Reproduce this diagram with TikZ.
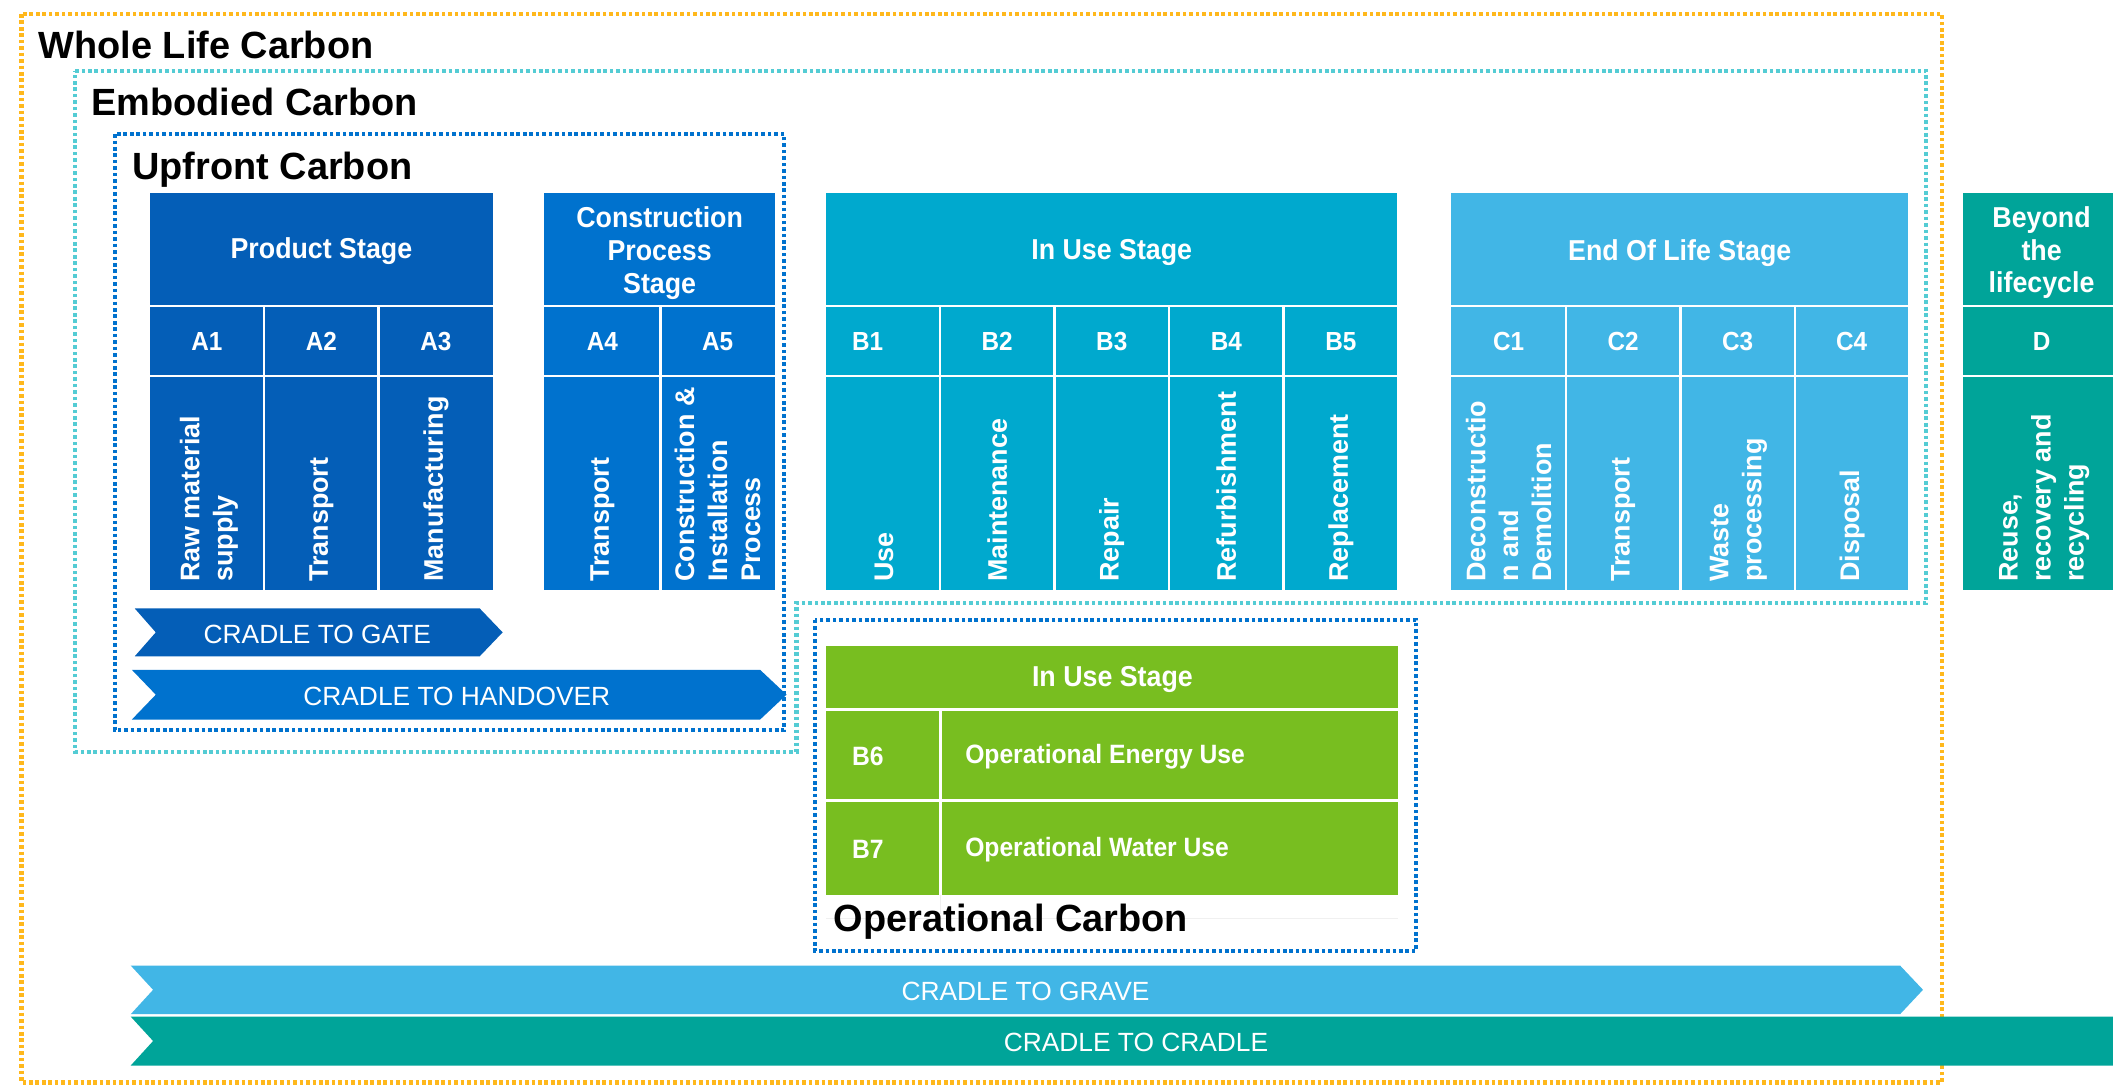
\documentclass[tikz,border=0pt]{standalone}
\usepackage{fontspec}
\setmainfont{Liberation Sans}
\newfontfamily\narrowsf[FakeStretch=0.93]{Liberation Sans}
\definecolor{prodblue}{RGB}{4,94,183}
\definecolor{consblue}{RGB}{0,114,206}
\definecolor{usecyan}{RGB}{0,169,206}
\definecolor{eolblue}{RGB}{65,182,230}
\definecolor{beyondteal}{RGB}{0,164,153}
\definecolor{opgreen}{RGB}{120,190,32}
\definecolor{wlcorange}{RGB}{255,184,28}
\definecolor{embteal}{RGB}{84,204,212}
\definecolor{upblue}{RGB}{0,114,206}
\tikzset{
  dotbox/.style={line width=2.2pt, dash pattern=on 1.9pt off 1.5pt},
  celldiv/.style={white, line width=1.4pt},
  boxtitle/.style={anchor=base west, inner sep=0pt, font=\bfseries\fontsize{20}{24}\selectfont},
  headtxt/.style={text=white, inner sep=0pt, align=center, font=\narrowsf\bfseries\fontsize{15.2}{17.3}\selectfont},
  codetxt/.style={text=white, inner sep=0pt, font=\narrowsf\bfseries\fontsize{13.8}{16}\selectfont},
  rowtxt/.style={text=white, inner sep=0pt, anchor=west, font=\narrowsf\bfseries\fontsize{14}{16}\selectfont},
  vtxt/.style={text=white, inner sep=0pt, rotate=90, anchor=west, align=left, font=\bfseries\fontsize{14.2}{17.4}\selectfont},
  arrowtxt/.style={text=white, inner sep=0pt, font=\fontsize{13.9}{16}\selectfont},
}
\begin{document}
\begin{tikzpicture}[x=0.025cm, y=-0.025cm]
\useasboundingbox (0,0) rectangle (1568,805);
\draw[dotbox, wlcorange] (16,10.4) rectangle (1441,803.3);
\draw[dotbox, embteal] (55.7,52.5) -- (1429.5,52.5) -- (1429.5,447.7) -- (591,447.7) -- (591,558) -- (55.7,558) -- cycle;
\draw[dotbox, upblue] (85.3,99.5) rectangle (582,542);
\draw[dotbox, upblue] (604.6,460) rectangle (1050.9,705.4);
\node[boxtitle] (wlc) at (28.4,43.3) {Whole Life Carbon};
\node[boxtitle] (emb) at (67.5,86) {Embodied Carbon};
\node[boxtitle] (upf) at (98,133) {Upfront Carbon};
\fill[prodblue] (111,143) rectangle (366,438);
\draw[celldiv] (111,227) -- (366,227);
\draw[celldiv] (111,279) -- (366,279);
\draw[celldiv] (196,227) -- (196,438);
\draw[celldiv] (281,227) -- (281,438);
\node[headtxt] (prodhead) at (238.5,186.5) {Product Stage};
\node[codetxt] (a1) at (153.5,253.5) {A1};
\node[codetxt] (a2) at (238.5,253.5) {A2};
\node[codetxt] (a3) at (323.5,253.5) {A3};
\node[vtxt] (a1txt) at (155,432) {Raw material\\supply};
\node[vtxt] (a2txt) at (238.5,432) {Transport};
\node[vtxt] (a3txt) at (323.5,432) {Manufacturing};
\fill[consblue] (404,143) rectangle (575,438);
\draw[celldiv] (404,227) -- (575,227);
\draw[celldiv] (404,279) -- (575,279);
\draw[celldiv] (490,227) -- (490,438);
\node[headtxt] (conshead) at (489.5,188) {Construction\\Process\\Stage};
\node[codetxt] (a4) at (447,253.5) {A4};
\node[codetxt] (a5) at (532.5,253.5) {A5};
\node[vtxt] (a4txt) at (447,432) {Transport};
\node[vtxt] (a5txt) at (532.5,432) {Construction \&\\Installation\\Process};
\fill[usecyan] (613,143) rectangle (1037,438);
\draw[celldiv] (613,227) -- (1037,227);
\draw[celldiv] (613,279) -- (1037,279);
\draw[celldiv] (697.5,227) -- (697.5,438);
\draw[celldiv] (782.5,227) -- (782.5,438);
\draw[celldiv] (867.5,227) -- (867.5,438);
\draw[celldiv] (952.5,227) -- (952.5,438);
\node[headtxt] (usehead) at (825,187.5) {In Use Stage};
\node[codetxt, anchor=west] (b1) at (632,253.5) {B1};
\node[codetxt] (b2) at (740,253.5) {B2};
\node[codetxt] (b3) at (825,253.5) {B3};
\node[codetxt] (b4) at (910,253.5) {B4};
\node[codetxt] (b5) at (995,253.5) {B5};
\node[vtxt] (b1txt) at (656,432) {Use};
\node[vtxt] (b2txt) at (740,432) {Maintenance};
\node[vtxt] (b3txt) at (825,432) {Repair};
\node[vtxt] (b4txt) at (910,432) {Refurbishment};
\node[vtxt] (b5txt) at (995,432) {Replacement};
\fill[eolblue] (1077,143) rectangle (1416,438);
\draw[celldiv] (1077,227) -- (1416,227);
\draw[celldiv] (1077,279) -- (1416,279);
\draw[celldiv] (1162,227) -- (1162,438);
\draw[celldiv] (1247,227) -- (1247,438);
\draw[celldiv] (1332,227) -- (1332,438);
\node[headtxt] (eolhead) at (1246.5,187.5) {End Of Life Stage};
\node[codetxt] (c1) at (1119.5,253.5) {C1};
\node[codetxt] (c2) at (1204.5,253.5) {C2};
\node[codetxt] (c3) at (1289.5,253.5) {C3};
\node[codetxt] (c4) at (1374,253.5) {C4};
\node[vtxt] (c1txt) at (1119.5,432) {Deconstructio\\n and\\Demolition};
\node[vtxt] (c2txt) at (1204.5,432) {Transport};
\node[vtxt] (c3txt) at (1290,432) {Waste\\processing};
\node[vtxt] (c4txt) at (1374.5,432) {Disposal};
\fill[beyondteal] (1456.5,143) rectangle (1580,438);
\draw[celldiv] (1456.5,227) -- (1580,227);
\draw[celldiv] (1456.5,279) -- (1580,279);
\node[headtxt] (beyhead) at (1515,187.5) {Beyond\\the\\lifecycle};
\node[codetxt] (d) at (1515,253.5) {D};
\node[vtxt] (dtxt) at (1517,432) {Reuse,\\recovery and\\recycling};
\fill[opgreen] (613,479.5) rectangle (1037.5,664);
\draw[celldiv] (613,526.5) -- (1037.5,526.5);
\draw[celldiv] (613,594) -- (1037.5,594);
\draw[celldiv] (698,526.5) -- (698,664);
\draw[gray!12, line width=0.6pt] (613,681.4) -- (1037.5,681.4);
\draw[gray!12, line width=0.6pt] (698,664) -- (698,678);
\node[headtxt] (ophead) at (825.5,504.5) {In Use Stage};
\node[rowtxt] (b6) at (632,561.5) {B6};
\node[rowtxt] (b7) at (632,630.5) {B7};
\node[rowtxt] (b6txt) at (716,561.5) {Operational Energy Use};
\node[rowtxt] (b7txt) at (716,630.5) {Operational Water Use};
\node[boxtitle] (opc) at (618.6,691) {Operational Carbon};
\fill[prodblue] (100,451.5) -- (356,451.5) -- (373,469.25) -- (356,487) -- (100,487) -- (115.6,469.25) -- cycle;
\node[arrowtxt] (gate) at (235.5,470.5) {CRADLE TO GATE};
\fill[consblue] (97.8,497) -- (564,497) -- (583.7,515.5) -- (564,534) -- (97.8,534) -- (115.6,515.5) -- cycle;
\node[arrowtxt] (handover) at (339,516.5) {CRADLE TO HANDOVER};
\fill[eolblue] (97,716.5) -- (1410,716.5) -- (1427,734.5) -- (1410,752.6) -- (97,752.6) -- (113.6,734.5) -- cycle;
\node[arrowtxt] (grave) at (761,735.5) {CRADLE TO GRAVE};
\fill[beyondteal] (97,754.4) -- (1600,754.4) -- (1618,772.5) -- (1600,790.7) -- (97,790.7) -- (113.6,772.5) -- cycle;
\node[arrowtxt] (cradle) at (843,773.5) {CRADLE TO CRADLE};
\end{tikzpicture}
\end{document}
